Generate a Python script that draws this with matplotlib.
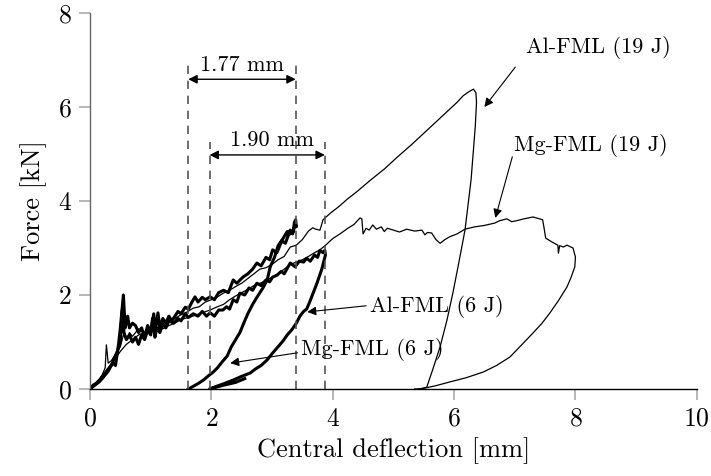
import matplotlib
matplotlib.use("Agg")
import matplotlib.pyplot as plt

plt.rcParams['font.family'] = ['cmr10', 'DejaVu Serif']
plt.rcParams['mathtext.fontset'] = 'cm'
plt.rcParams['axes.formatter.use_mathtext'] = True

# ---- Al-FML (19 J) : thin
al19_x = [0, 0.05, 0.1, 0.15, 0.2, 0.25, 0.27, 0.3, 0.35, 0.4, 0.45, 0.5, 0.55, 0.6, 0.65, 0.7,
          0.8, 0.9, 1.0, 1.1, 1.2, 1.3, 1.4, 1.5, 1.6, 1.7, 1.8, 1.9, 2.0, 2.1, 2.2, 2.3, 2.4,
          2.5, 2.6, 2.7, 2.8, 2.9, 3.0, 3.1, 3.2, 3.3, 3.4, 3.5, 3.6, 3.67, 3.72, 3.79, 3.84,
          3.96, 4.1, 4.25, 4.4, 4.6, 4.85, 5.07, 5.3, 5.5, 5.7, 5.9, 6.05, 6.15, 6.25, 6.32,
          6.36, 6.37, 6.35, 6.32, 6.28, 6.18, 6.08, 5.98, 5.88, 5.77, 5.65, 5.55, 5.45, 5.35]
al19_y = [0, 0.05, 0.12, 0.2, 0.3, 0.45, 0.94, 0.55, 0.6, 0.7, 0.8, 0.9, 1.15, 1.05, 1.2, 1.12,
          1.28, 1.2, 1.33, 1.25, 1.4, 1.45, 1.5, 1.58, 1.64, 1.72, 1.75, 1.85, 1.9, 1.96, 2.04,
          2.1, 2.18, 2.25, 2.35, 2.45, 2.55, 2.58, 2.65, 2.75, 2.82, 3.02, 3.06, 3.18, 3.36,
          3.43, 3.4, 3.38, 3.6, 3.74, 3.88, 4.05, 4.2, 4.42, 4.68, 4.94, 5.2, 5.44, 5.68, 5.92,
          6.1, 6.24, 6.33, 6.38, 6.3, 6.1, 5.6, 5.1, 4.45, 3.38, 2.7, 2.04, 1.45, 0.9, 0.42,
          0.04, 0.0, 0.0]

# ---- Mg-FML (19 J) : thin
mg19_x = [0, 0.05, 0.1, 0.2, 0.3, 0.4, 0.5, 0.6, 0.7, 0.8, 0.9, 1.0, 1.1, 1.2, 1.3, 1.4, 1.5,
          1.65, 1.8, 1.98, 2.1, 2.2, 2.3, 2.4, 2.5, 2.6, 2.7, 2.8, 2.9, 3.0, 3.1, 3.2, 3.3,
          3.4, 3.5, 3.6, 3.7, 3.79, 3.9, 4.0, 4.12, 4.25, 4.35, 4.45, 4.48, 4.5, 4.55, 4.6,
          4.66, 4.72, 4.8, 4.85, 4.9, 5.0, 5.1, 5.22, 5.35, 5.47, 5.52, 5.56, 5.63, 5.7, 5.77,
          5.85, 5.93, 6.05, 6.18, 6.34, 6.5, 6.67, 6.75, 6.87, 6.95, 7.03, 7.15, 7.3, 7.41,
          7.46, 7.48, 7.51, 7.61, 7.71, 7.72, 7.74, 7.8, 7.86, 7.96, 8.0, 7.99, 7.93, 7.86,
          7.72, 7.58, 7.45, 7.3, 7.1, 6.92, 6.7, 6.48, 6.2, 5.93, 5.7, 5.52, 5.4]
mg19_y = [0, 0.06, 0.12, 0.28, 0.45, 0.62, 0.8, 0.95, 1.05, 1.15, 1.2, 1.25, 1.3, 1.28, 1.35,
          1.4, 1.48, 1.53, 1.6, 1.68, 1.75, 1.8, 1.9, 1.98, 2.05, 2.12, 2.2, 2.25, 2.3, 2.38,
          2.45, 2.55, 2.65, 2.7, 2.75, 2.82, 2.9, 2.96, 3.08, 3.2, 3.3, 3.42, 3.5, 3.64, 3.62,
          3.3, 3.42, 3.38, 3.49, 3.4, 3.45, 3.35, 3.42, 3.38, 3.34, 3.4, 3.36, 3.38, 3.28,
          3.33, 3.32, 3.18, 3.1, 3.18, 3.24, 3.3, 3.4, 3.45, 3.48, 3.53, 3.58, 3.62, 3.56,
          3.58, 3.62, 3.66, 3.62, 3.6, 3.45, 3.21, 3.13, 3.06, 2.89, 3.05, 3.02, 3.06, 3.0,
          2.81, 2.6, 2.38, 2.17, 1.88, 1.62, 1.4, 1.19, 0.92, 0.68, 0.5, 0.36, 0.24, 0.15,
          0.07, 0.02, 0.0]

# ---- Mg-FML (6 J) : thick, upper
mg6_x = [0, 0.05, 0.1, 0.15, 0.2, 0.3, 0.38, 0.42, 0.47, 0.5, 0.55, 0.58, 0.62, 0.65, 0.7,
         0.75, 0.8, 0.85, 0.9, 0.95, 1.0, 1.05, 1.08, 1.12, 1.15, 1.2, 1.25, 1.3, 1.35, 1.45,
         1.5, 1.57, 1.62, 1.68, 1.73, 1.78, 1.85, 1.9, 1.98, 2.05, 2.12, 2.2, 2.28, 2.36,
         2.42, 2.52, 2.6, 2.68, 2.75, 2.82, 2.9, 2.96, 3.01, 3.08, 3.16, 3.22, 3.3, 3.34,
         3.37, 3.39, 3.4, 3.38, 3.35, 3.3, 3.25, 3.18, 3.1, 3.04, 2.97, 2.92, 2.85, 2.75,
         2.68, 2.6, 2.55, 2.47, 2.4, 2.33, 2.26, 2.18, 2.1, 2.03, 1.95, 1.88, 1.8, 1.72,
         1.65, 1.62]
mg6_y = [0, 0.08, 0.12, 0.18, 0.25, 0.42, 0.55, 0.5, 0.95, 1.3, 2.0, 1.3, 1.55, 1.3, 1.4,
         1.35, 1.2, 1.3, 1.1, 1.35, 1.2, 1.6, 1.25, 1.62, 1.3, 1.5, 1.4, 1.55, 1.45, 1.65,
         1.6, 1.74, 1.7, 1.85, 1.96, 1.85, 1.95, 1.9, 1.96, 1.9, 2.05, 2.1, 2.05, 2.32,
         2.25, 2.38, 2.45, 2.55, 2.68, 2.62, 2.8, 2.75, 2.96, 2.9, 3.15, 3.1, 3.38, 3.3,
         3.55, 3.6, 3.45, 3.5, 3.35, 3.3, 3.35, 3.2, 3.05, 2.8, 2.6, 2.32, 2.15, 1.95,
         1.8, 1.6, 1.45, 1.2, 1.05, 0.9, 0.7, 0.58, 0.45, 0.36, 0.28, 0.2, 0.13, 0.07,
         0.02, 0.0]

# ---- Al-FML (6 J) : thick, lower
al6_x = [0, 0.05, 0.1, 0.15, 0.2, 0.25, 0.3, 0.35, 0.4, 0.45, 0.5, 0.53, 0.56, 0.6, 0.65,
         0.7, 0.75, 0.8, 0.85, 0.9, 0.95, 1.0, 1.03, 1.07, 1.1, 1.15, 1.2, 1.25, 1.3, 1.38,
         1.45, 1.5, 1.57, 1.62, 1.7, 1.78, 1.85, 1.92, 1.98, 2.05, 2.12, 2.19, 2.25, 2.3,
         2.36, 2.42, 2.47, 2.55, 2.62, 2.68, 2.75, 2.82, 2.9, 2.96, 3.01, 3.08, 3.15, 3.2,
         3.3, 3.38, 3.45, 3.52, 3.57, 3.63, 3.7, 3.75, 3.79, 3.84, 3.87, 3.88, 3.86, 3.82,
         3.78, 3.74, 3.68, 3.62, 3.57, 3.52, 3.46, 3.4, 3.32, 3.25, 3.18, 3.1, 3.0, 2.92,
         2.82, 2.72, 2.64, 2.5, 2.36, 2.2, 2.05, 1.97, 2.2, 2.4, 2.55]
al6_y = [0, 0.05, 0.1, 0.15, 0.22, 0.3, 0.38, 0.5, 0.65, 0.8, 1.0, 1.68, 1.2, 1.05, 1.15,
         1.0, 1.1, 0.95, 1.15, 1.05, 1.25, 1.15, 1.5, 1.1, 1.3, 1.2, 1.38, 1.3, 1.45, 1.4,
         1.5, 1.45, 1.6, 1.52, 1.6, 1.55, 1.65, 1.55, 1.62, 1.55, 1.68, 1.68, 1.75, 1.7,
         1.9, 1.85, 2.04, 2.0, 2.15, 2.1, 2.25, 2.2, 2.32, 2.28, 2.38, 2.42, 2.5, 2.45,
         2.68, 2.6, 2.72, 2.7, 2.78, 2.72, 2.85, 2.8, 2.95, 2.9, 2.95, 2.85, 2.75, 2.55,
         2.4, 2.25, 2.05, 1.85, 1.7, 1.65, 1.55, 1.4, 1.25, 1.15, 1.02, 0.9, 0.75, 0.62,
         0.5, 0.42, 0.34, 0.27, 0.19, 0.11, 0.04, 0.0, 0.08, 0.14, 0.22]

xticks = [0, 2, 4, 6, 8, 10]
yticks = [0, 2, 4, 6, 8]

fig = plt.figure(figsize=(7.11, 4.76), dpi=100)
ax = fig.add_axes([0.1266, 0.1828, 0.8534, 0.7899])

ax.plot(al19_x, al19_y, color='black', lw=0.9)
ax.plot(mg19_x, mg19_y, color='black', lw=0.9)
ax.plot(mg6_x, mg6_y, color='black', lw=2.2, solid_joinstyle='round')
ax.plot(al6_x, al6_y, color='black', lw=2.2, solid_joinstyle='round')

# dashed guide lines
dash_kw = dict(color='#555555', lw=1.2, ls=(0, (5, 4)))
for xv in [1.62, 3.39]:
    ax.plot([xv, xv], [0, 6.9], **dash_kw)
for xv in [1.97, 3.87]:
    ax.plot([xv, xv], [0, 5.26], **dash_kw)

arr = dict(arrowstyle='<|-|>', color='black', lw=1.0, mutation_scale=13, shrinkA=0, shrinkB=0)
ax.annotate('', xy=(1.62, 6.59), xytext=(3.39, 6.59), arrowprops=arr)
ax.annotate('', xy=(1.97, 4.98), xytext=(3.87, 4.98), arrowprops=arr)
ax.text(2.5, 6.89, '1.77 mm', ha='center', va='center', fontsize=16)
ax.text(3.0, 5.3, '1.90 mm', ha='center', va='center', fontsize=16)

one = dict(arrowstyle='-|>', color='black', lw=0.8, mutation_scale=13, shrinkA=0, shrinkB=0)
ax.annotate('', xy=(6.5, 6.0), xytext=(7.01, 6.85), arrowprops=one)
ax.annotate('', xy=(6.68, 3.64), xytext=(6.96, 4.94), arrowprops=one)
ax.annotate('', xy=(3.58, 1.64), xytext=(4.55, 1.77), arrowprops=one)
ax.annotate('', xy=(2.31, 0.55), xytext=(3.42, 0.77), arrowprops=one)
ax.text(7.18, 7.26, 'Al-FML (19 J)', ha='left', va='center', fontsize=16)
ax.text(6.98, 5.19, 'Mg-FML (19 J)', ha='left', va='center', fontsize=16)
ax.text(6.81, 1.76, 'Al-FML (6 J)', ha='right', va='center', fontsize=16)
ax.text(3.47, 0.83, 'Mg-FML (6 J)', ha='left', va='center', fontsize=16)

ax.set_xlim(0, 10)
ax.set_ylim(0, 8)
ax.set_xticks(xticks)
ax.set_yticks(yticks)
ax.set_xlabel('Central deflection [mm]', fontsize=19, labelpad=5)
ax.set_ylabel('Force [kN]', fontsize=19, labelpad=8)
ax.tick_params(axis='both', labelsize=18.5, direction='out', length=8, width=1.2,
               color='#aaaaaa', pad=5)
ax.spines['top'].set_visible(False)
ax.spines['right'].set_visible(False)
ax.spines['left'].set_color('#666666')
ax.spines['bottom'].set_color('black')
ax.spines['left'].set_linewidth(1.0)
ax.spines['bottom'].set_linewidth(1.0)

fig.savefig('out.png', dpi=100)
